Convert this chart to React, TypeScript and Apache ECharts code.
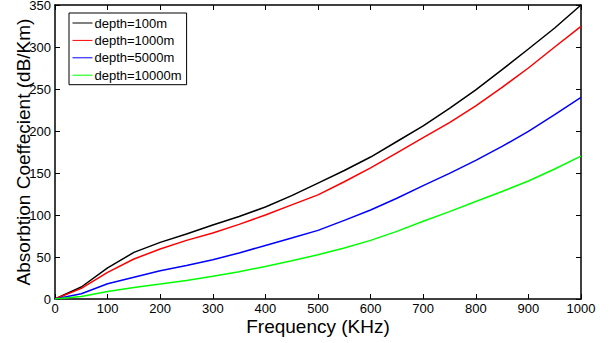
import React, { useEffect, useRef } from "react";
import * as echarts from "echarts";

const freq = [0, 50, 100, 150, 200, 250, 300, 350, 400, 450, 500, 550, 600, 650, 700, 750, 800, 850, 900, 950, 1000];
const depth100 = [0, 14.3, 37, 55.5, 67.4, 77.4, 88, 98.3, 109.5, 123, 138, 153, 169, 187.5, 206, 227, 249, 273, 297.6, 322.6, 350];
const depth1000 = [0, 12.6, 31.7, 47.6, 59.5, 69.8, 78.6, 88.8, 100, 112, 124, 139.6, 156, 174, 192, 210, 230, 252, 275, 300, 324.5];
const depth5000 = [0, 6.3, 18.2, 26, 33.7, 40, 46.8, 54.8, 63.8, 72.6, 81.7, 93.6, 106, 120, 135, 149.5, 165, 181.7, 199.5, 219.4, 240];
const depth10000 = [0, 3, 9, 13.8, 17.8, 22, 27, 32.5, 38.8, 45.6, 52.7, 60.7, 69.8, 80.5, 92.5, 104, 116, 128, 140.5, 154.8, 170];

const seriesNames = ["depth=100m", "depth=1000m", "depth=5000m", "depth=10000m"];
const seriesColors = ["#000000", "#ff0000", "#0000ff", "#00ff00"];
const seriesData = [depth100, depth1000, depth5000, depth10000];

const FONT = "Liberation Sans, Arial, Helvetica, sans-serif";

export default function App() {
  const ref = useRef<HTMLDivElement>(null);
  useEffect(() => {
    if (!ref.current) return;
    const chart = echarts.init(ref.current, null, { renderer: "svg" });
    const axisLine = { show: true, onZero: false, lineStyle: { color: "#000", width: 1.5 } };
    const axisTick = { show: true, inside: true, length: 5, lineStyle: { color: "#000", width: 1 } };
    chart.setOption({
      animation: false,
      backgroundColor: "#fff",
      grid: { left: 55, right: 32, top: 5, bottom: 44, containLabel: false, outerBoundsMode: "none" },
      legend: {
        show: true,
        orient: "vertical",
        left: 69,
        top: 13,
        data: seriesNames.map((n) => ({ name: n, icon: "rect" })),
        itemWidth: 20,
        itemHeight: 1,
        itemGap: 2.4,
        padding: [2.5, 5, 2, 3.5],
        borderColor: "#000",
        borderWidth: 1,
        backgroundColor: "#fff",
        textStyle: { fontFamily: FONT, fontSize: 13, color: "#000", lineHeight: 15, padding: [0, 0, 0, -3] },
      },
      xAxis: [
        {
          type: "value",
          min: 0,
          max: 1000,
          interval: 100,
          name: "Frequency (KHz)",
          nameLocation: "middle",
          nameGap: 18,
          nameMoveOverlap: false,
          nameTextStyle: { fontFamily: FONT, fontSize: 19, color: "#000" },
          axisLine,
          axisTick,
          splitLine: { show: false },
          axisLabel: { fontFamily: FONT, fontSize: 13, color: "#000", margin: 2, lineHeight: 14, formatter: (v: number) => String(v) },
        },
        {
          type: "value",
          position: "top",
          min: 0,
          max: 1000,
          interval: 100,
          axisLine,
          axisTick,
          splitLine: { show: false },
          axisLabel: { show: false },
        },
      ],
      yAxis: [
        {
          type: "value",
          min: 0,
          max: 350,
          interval: 50,
          name: "Absorbtion Coeffecient (dB/Km)",
          nameLocation: "middle",
          nameGap: 22,
          nameMoveOverlap: false,
          nameTextStyle: { fontFamily: FONT, fontSize: 19, color: "#000" },
          axisLine,
          axisTick,
          splitLine: { show: false },
          axisLabel: { fontFamily: FONT, fontSize: 13, color: "#000", margin: 4 },
        },
        {
          type: "value",
          position: "right",
          min: 0,
          max: 350,
          interval: 50,
          axisLine,
          axisTick,
          splitLine: { show: false },
          axisLabel: { show: false },
        },
      ],
      series: seriesNames.map((name, i) => ({
        name,
        type: "line",
        data: freq.map((f, j) => [f, seriesData[i][j]]),
        showSymbol: false,
        symbol: "none",
        smooth: false,
        lineStyle: { color: seriesColors[i], width: 1.5 },
        itemStyle: { color: seriesColors[i] },
      })),
    });
    return () => chart.dispose();
  }, []);
  return <div ref={ref} style={{ width: 613, height: 343, position: "absolute", left: 0, top: 0 }} />;
}
